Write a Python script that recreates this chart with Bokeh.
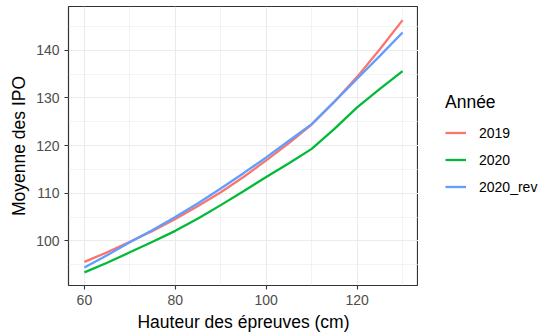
from bokeh.plotting import figure
from bokeh.models import Range1d, Legend, LegendItem, FixedTicker
from bokeh.layouts import row
from bokeh.embed import file_html
from bokeh.resources import INLINE

hauteur = [60, 65, 70, 75, 80, 85, 90, 95, 100, 105, 110, 115, 120, 125, 130]
ipo_2019 = [95.6, 97.6, 99.8, 102.1, 104.6, 107.3, 110.2, 113.4, 116.9, 120.5, 124.4, 129.2, 134.4, 140.2, 146.3]
ipo_2020 = [93.4, 95.4, 97.6, 99.8, 102.1, 104.7, 107.5, 110.4, 113.4, 116.3, 119.3, 123.5, 128.0, 131.9, 135.6]
ipo_2020_rev = [94.4, 97.0, 99.7, 102.3, 105.0, 107.9, 111.0, 114.2, 117.5, 121.0, 124.5, 129.2, 134.0, 138.8, 143.7]

series_names = ["2019", "2020", "2020_rev"]
series_values = [ipo_2019, ipo_2020, ipo_2020_rev]
colors = ["#F8766D", "#00BA38", "#619CFF"]

x_ticks = [60, 80, 100, 120]
y_ticks = [100, 110, 120, 130, 140]

FONT = "Liberation Sans"

p = figure(width=418, height=334, output_backend="svg", toolbar_location=None,
           x_range=Range1d(56.5, 133.5), y_range=Range1d(90.64, 149.16),
           min_border_left=68, min_border_right=0, min_border_top=6, min_border_bottom=49)

p.background_fill_color = "white"
p.border_fill_color = "white"
p.outline_line_color = "#333333"
p.outline_line_width = 1.2

for name, vals, c in zip(series_names, series_values, colors):
    p.line(hauteur, vals, line_color=c, line_width=2.3)

for ax in (p.xaxis[0], p.yaxis[0]):
    ax.axis_line_color = None
    ax.major_tick_out = 4
    ax.major_tick_in = 0
    ax.minor_tick_out = 0
    ax.minor_tick_in = 0
    ax.major_tick_line_color = "#333333"
    ax.major_tick_line_width = 1.1
    ax.major_label_text_font = FONT
    ax.major_label_text_font_size = "14px"
    ax.major_label_text_color = "#4D4D4D"
    ax.major_label_standoff = 5
    ax.axis_label_text_font = FONT
    ax.axis_label_text_font_size = "17.5px"
    ax.axis_label_text_font_style = "normal"
    ax.axis_label_text_color = "#000000"
    ax.axis_label_standoff = 4

p.xaxis[0].ticker = FixedTicker(ticks=x_ticks, minor_ticks=[50, 70, 90, 110, 130])
p.yaxis[0].ticker = FixedTicker(ticks=y_ticks, minor_ticks=[95, 105, 115, 125, 135, 145])
p.xaxis[0].axis_label = "Hauteur des épreuves (cm)"
p.yaxis[0].axis_label = "Moyenne des IPO"

for g in (p.xgrid[0], p.ygrid[0]):
    g.grid_line_color = "#EBEBEB"
    g.grid_line_width = 1.1
    g.minor_grid_line_color = "#EBEBEB"
    g.minor_grid_line_width = 0.6

# legend panel (keys only; the dummy lines lie outside the visible range)
p2 = figure(width=134, height=334, output_backend="svg", toolbar_location=None,
            x_axis_type=None, y_axis_type=None, min_border=0,
            x_range=Range1d(0, 1), y_range=Range1d(0, 1))
p2.outline_line_color = None
p2.background_fill_color = "white"
p2.border_fill_color = "white"
p2.grid.visible = False

items = []
for name, c in zip(series_names, colors):
    r = p2.line([5, 6], [5, 6], line_color=c, line_width=2.3)
    items.append(LegendItem(label=name, renderers=[r]))

legend = Legend(items=items, location=(27, 85), title="Année",
                title_text_font=FONT, title_text_font_size="17.5px", title_text_font_style="normal",
                title_text_color="#000000", title_standoff=6,
                label_text_font=FONT, label_text_font_size="14px", label_text_color="#000000",
                glyph_width=21, glyph_height=27, label_height=27, label_standoff=13,
                spacing=0, padding=0, margin=0,
                border_line_color=None, background_fill_color=None, background_fill_alpha=0)
p2.add_layout(legend)

layout = row(p, p2, spacing=0)
open("out.html", "w").write(file_html(layout, INLINE))
